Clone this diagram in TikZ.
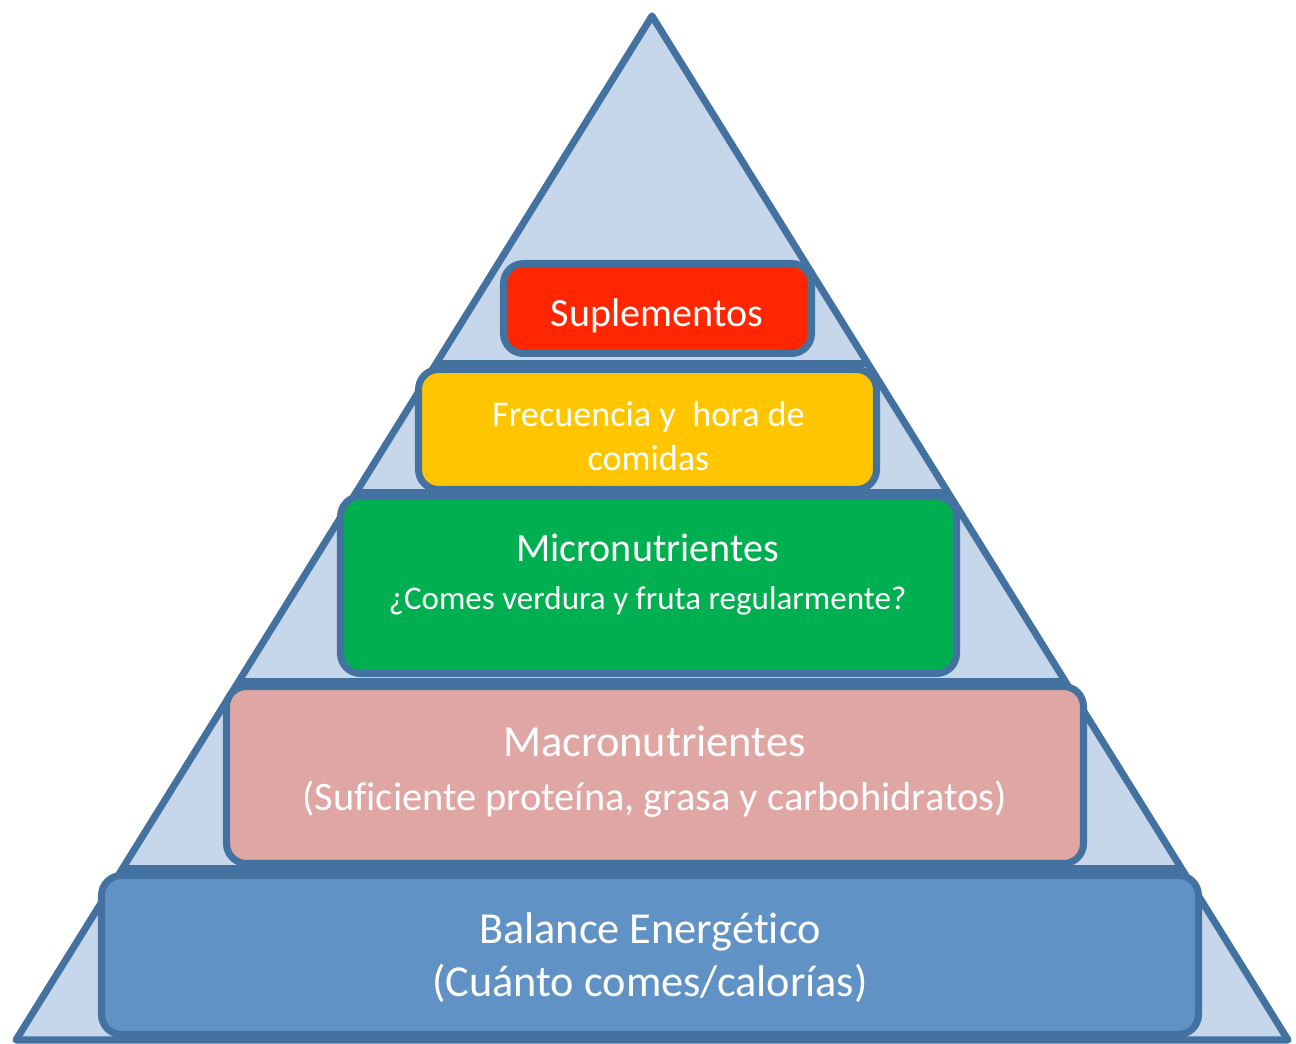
\documentclass[tikz,border=0pt]{standalone}
\usepackage{fontspec}
\setmainfont{Carlito}[Ligatures=NoCommon]
\usetikzlibrary{calc}
\definecolor{pyrfill}{RGB}{198,214,235}
\definecolor{pyrline}{RGB}{68,114,160}
\definecolor{suplred}{RGB}{255,38,0}
\definecolor{frecyellow}{RGB}{255,198,0}
\definecolor{microgreen}{RGB}{0,176,80}
\definecolor{macropink}{RGB}{224,166,164}
\definecolor{balblue}{RGB}{96,146,198}
\begin{document}
\begin{tikzpicture}[pyramid/.style={draw=pyrline, line width=4pt, line join=round},
  tier/.style 2 args={draw=pyrline, line width=4pt, rounded corners=0.4cm, minimum width=#1cm, minimum height=#2cm, inner sep=0pt},
  tiertext/.style={text=white, align=center, inner sep=0pt}]
	\useasboundingbox (0,0) rectangle (25.92,20.88);
	\coordinate (top) at (13.04,20.56);
	\coordinate (bl) at (0.32,0.08);
	\coordinate (br) at (25.76,0.08);
	\draw[pyramid, fill=pyrfill] (top) -- (br) -- (bl) -- cycle;
	\foreach \t in {0.339,0.465,0.650,0.833}
		\draw[pyramid] ($(top)!\t!(bl)$) -- ($(top)!\t!(br)$);
	\node[tier={6.16}{1.8}, fill=suplred] (supl) at (13.15,14.71) {};
	\node[tiertext, font=\fontsize{22.8}{27}\selectfont] (supltxt) at (13.14,14.57) {Suplementos};
	\node[tier={9.16}{2.4}, fill=frecyellow] (frec) at (12.95,12.29) {};
	\node[tiertext, font=\fontsize{20.6}{25}\selectfont] (frectxt) at (12.97,12.15) {Frecuencia y\ \ hora de\\comidas};
	\node[tier={12.32}{3.54}, fill=microgreen] (micro) at (12.97,9.18) {};
	\node[tiertext, font=\fontsize{22.8}{27.3}\selectfont] (microtxt) at (12.95,9.38) {Micronutrientes\\{\fontsize{18.8}{22}\selectfont ¿Comes verdura y fruta regularmente?}};
	\node[tier={17.14}{3.54}, fill=macropink] (macro) at (13.1,5.38) {};
	\node[tiertext, font=\fontsize{25.3}{31}\selectfont] (macrotxt) at (13.09,5.45) {Macronutrientes\\{\fontsize{23}{28}\selectfont (Suficiente proteína, grasa y carbohidratos)}};
	\node[tier={21.94}{3.18}, fill=balblue] (bal) at (13.0,1.78) {};
	\node[tiertext, font=\fontsize{25.2}{30}\selectfont] (baltxt) at (13.0,1.73) {Balance Energético\\(Cuánto comes/calorías)};
\end{tikzpicture}
\end{document}
